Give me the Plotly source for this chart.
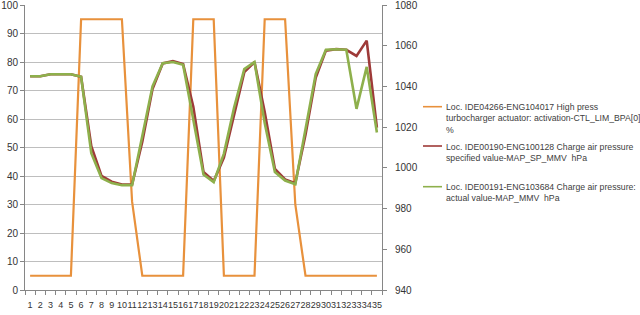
import plotly.graph_objects as go

categories = [str(i) for i in range(1, 36)]

turbo_activation = [5, 5, 5, 5, 5, 95, 95, 95, 95, 95, 31, 5, 5, 5, 5, 5, 95, 95, 95, 5,
                    5, 5, 5, 95, 95, 95, 30, 5, 5, 5, 5, 5, 5, 5, 5]

map_specified = [1045, 1045, 1046, 1046, 1046, 1044.7, 1010.7, 996, 993.2, 991.8, 991.8,
                 1012.8, 1038.7, 1051.3, 1052.4, 1051, 1030, 998, 993.5, 1005, 1026.8,
                 1047, 1052, 1027.5, 999.5, 994.3, 992.5, 1016.3, 1044.3, 1057.6, 1058.3,
                 1058, 1055, 1062.5, 1019.8]

map_actual = [1045, 1045, 1046, 1046, 1046, 1044.7, 1007.2, 995, 992.5, 991.5, 991.5,
              1015.6, 1040, 1051.4, 1052, 1050.6, 1024, 996.7, 993, 1007, 1029.6,
              1048.5, 1052, 1022, 998, 993.8, 992, 1018.4, 1046, 1058, 1058.3,
              1058, 1029, 1049.6, 1017.4]

names = [
    "Loc. IDE04266-ENG104017 High press<br>turbocharger actuator: activation-CTL_LIM_BPA[0]<br>%",
    "Loc. IDE00190-ENG100128 Charge air pressure<br>specified value-MAP_SP_MMV  hPa",
    "Loc. IDE00191-ENG103684 Charge air pressure:<br>actual value-MAP_MMV  hPa",
]
colors = ["#E8913C", "#9E3A38", "#8EB04C"]

FONT = "Liberation Sans"
AX = "#868686"
TXT = "#333333"

# plot area in pixels (for placing the external legend)
L, R, T, B, W, H = 25, 258, 5, 25, 640, 315
PW, PH = W - L - R, H - T - B

def px_x(px):
    return (px - L) / PW

def px_y(py):
    return (H - B - py) / PH

fig = go.Figure()
fig.add_trace(go.Scatter(x=categories, y=turbo_activation, mode="lines", name=names[0],
                         line=dict(color=colors[0], width=2.2), yaxis="y"))
fig.add_trace(go.Scatter(x=categories, y=map_specified, mode="lines", name=names[1],
                         line=dict(color=colors[1], width=2.6), yaxis="y2"))
fig.add_trace(go.Scatter(x=categories, y=map_actual, mode="lines", name=names[2],
                         line=dict(color=colors[2], width=2.6), yaxis="y2"))

# legend drawn next to the plot (text + short line samples)
legend_first_line_px = [106.7, 146.0, 186.7]
for name, col, ly in zip(names, colors, legend_first_line_px):
    fig.add_shape(type="line", xref="paper", yref="paper",
                  x0=px_x(423), x1=px_x(442), y0=px_y(ly), y1=px_y(ly),
                  line=dict(color=col, width=1.6))
    fig.add_annotation(xref="paper", yref="paper", x=px_x(444), y=px_y(ly - 6.4),
                       xanchor="left", yanchor="top", align="left", showarrow=False,
                       text=name, font=dict(family=FONT, size=8.7, color="#404040"))

fig.update_layout(
    width=W, height=H,
    margin=dict(l=L, r=R, t=T, b=B, autoexpand=False),
    paper_bgcolor="white", plot_bgcolor="white",
    font=dict(family=FONT, size=10, color=TXT),
    showlegend=False,
    xaxis=dict(type="category", range=[-0.5, 34.5], showgrid=False,
               tickmode="array", tickvals=categories, ticktext=categories,
               showline=True, linecolor=AX, linewidth=1,
               ticks="outside", tickson="boundaries", ticklen=4, tickcolor=AX,
               tickfont=dict(size=9, color=TXT), tickangle=0, ticklabelstandoff=6),
    yaxis=dict(range=[0, 100], dtick=10, showgrid=True, gridcolor="#BEBEBE", gridwidth=1,
               showline=True, linecolor=AX, ticks="outside", ticklen=4, tickcolor=AX,
               tickfont=dict(size=10, color=TXT), zeroline=False, ticklabeloverflow="allow"),
    yaxis2=dict(range=[940, 1080], dtick=20, overlaying="y", side="right", showgrid=False,
                showline=True, linecolor=AX, ticks="outside", ticklen=4, tickcolor=AX,
                tickfont=dict(size=10, color=TXT), zeroline=False, ticklabelstandoff=6,
                ticklabeloverflow="allow"),
)

fig.write_html("out.html")
